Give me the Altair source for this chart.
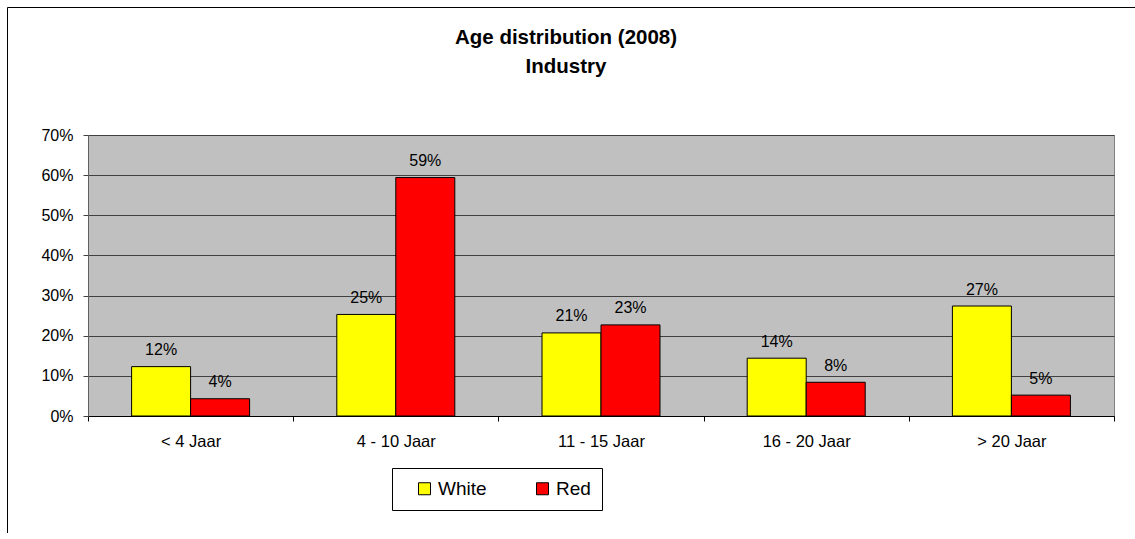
import altair as alt
import pandas as pd

categories = ["< 4 Jaar", "4 - 10 Jaar", "11 - 15 Jaar", "16 - 20 Jaar", "> 20 Jaar"]
white = [0.123, 0.253, 0.207, 0.144, 0.274]
red = [0.043, 0.594, 0.227, 0.084, 0.052]
series = ["White", "Red"]
colors = ["#FFFF00", "#FF0000"]
y_ticks = [0.0, 0.1, 0.2, 0.3, 0.4, 0.5, 0.6, 0.7]
title_lines = ["Age distribution (2008)", "Industry"]

rows = []
for c, w, r in zip(categories, white, red):
    rows.append({"cat": c, "series": "White", "value": w})
    rows.append({"cat": c, "series": "Red", "value": r})
df = pd.DataFrame(rows)

FONT = "Liberation Sans"

x_enc = alt.X(
    "cat:N",
    sort=categories,
    scale=alt.Scale(paddingInner=0, paddingOuter=0),
    axis=alt.Axis(
        title=None, labelAngle=0, tickBand="extent", ticks=True, tickSize=5,
        tickColor="#000000", domainColor="#000000", labelFontSize=16.5,
        labelPadding=12, labelColor="#000000", grid=False,
    ),
)
xoff_enc = alt.XOffset(
    "series:N", sort=series, scale=alt.Scale(paddingInner=0, paddingOuter=0.739)
)
y_enc = alt.Y(
    "value:Q",
    scale=alt.Scale(domain=[0, 0.7], nice=False),
    axis=alt.Axis(
        title=None, values=y_ticks, format=".0%", grid=True, gridColor="#404040",
        gridWidth=1, tickSize=5, tickColor="#404040", domainColor="#606060",
        labelFontSize=16, labelPadding=10, labelColor="#000000",
    ),
)

one = pd.DataFrame({"a": [0]})

frame_left = alt.Chart(one).mark_rule(color="#000000", strokeWidth=1).encode(
    x=alt.value(-80.5), y=alt.value(-127.5), y2=alt.value(398)
)
frame_top = alt.Chart(one).mark_rule(color="#000000", strokeWidth=1).encode(
    x=alt.value(-80.5), x2=alt.value(1047), y=alt.value(-127.5)
)

title = alt.Chart(one).mark_text(
    font=FONT, fontSize=20.5, fontWeight="bold", color="#000000",
    align="center", baseline="alphabetic", lineHeight=29,
).encode(
    x=alt.value(478), y=alt.value(-91), text=alt.value(title_lines)
)

bars = alt.Chart(df).mark_bar(stroke="#000000", strokeWidth=1).encode(
    x=x_enc,
    xOffset=xoff_enc,
    y=y_enc,
    color=alt.Color(
        "series:N",
        sort=series,
        scale=alt.Scale(domain=series, range=colors),
        legend=alt.Legend(
            title=None, orient="none", legendX=304, legendY=333,
            direction="horizontal", symbolType="square", symbolSize=144,
            symbolStrokeColor="#000000", symbolStrokeWidth=1, labelFontSize=19,
            labelOffset=4, columnPadding=34, strokeColor="#000000",
            fillColor="#FFFFFF", padding=11, symbolOffset=12,
            labelColor="#000000",
            labelExpr="datum.label == 'Red' ? 'Red  ' : datum.label",
        ),
    ),
)

labels = alt.Chart(df).mark_text(
    dy=-11.5, baseline="alphabetic", fontSize=16, color="#000000", font=FONT
).encode(
    x=x_enc,
    xOffset=xoff_enc,
    y=y_enc,
    text=alt.Text("value:Q", format=".0%"),
)

chart = alt.layer(frame_left, frame_top, title, bars, labels).properties(
    width=1026,
    height=281,
    autosize=alt.AutoSizeParams(type="none"),
    padding={"left": 88, "top": 135, "right": 21, "bottom": 117},
    background="#FFFFFF",
).configure(font=FONT).configure_view(
    fill="#C0C0C0", stroke="#808080", strokeWidth=1
)

chart.save("out.html", embed_options={"renderer": "svg", "actions": False})
